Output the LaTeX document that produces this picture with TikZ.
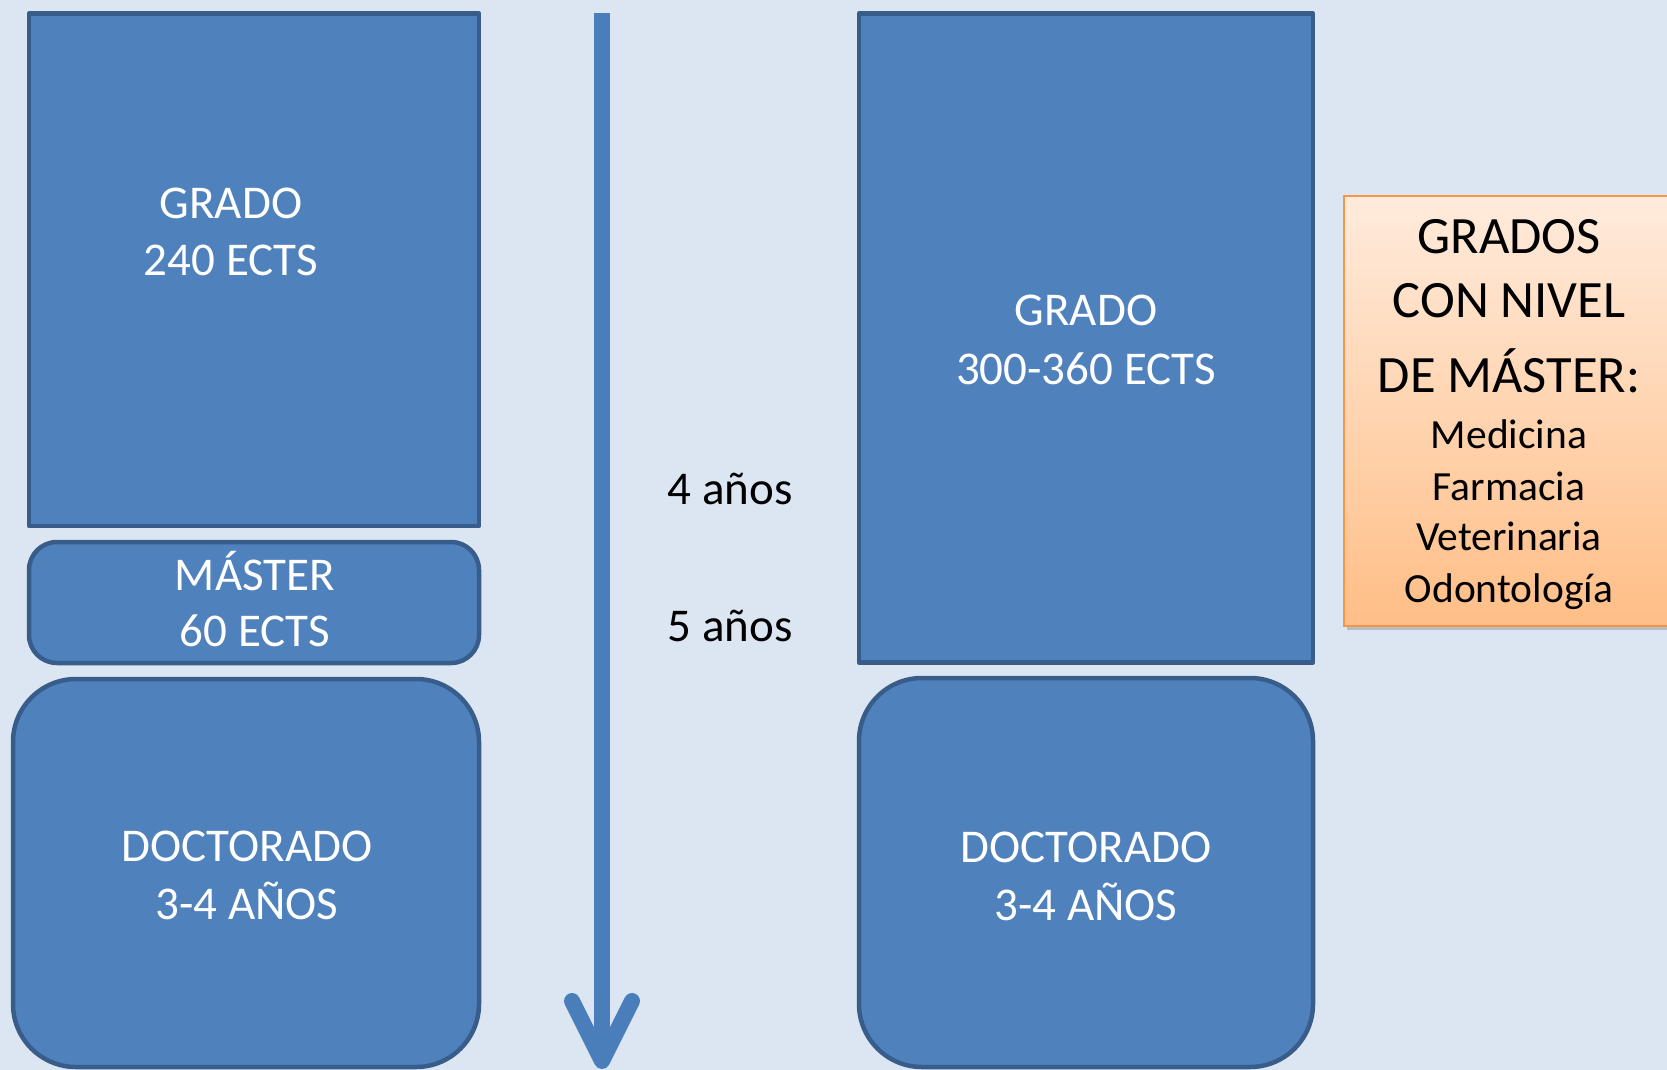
\documentclass[tikz,border=0pt]{standalone}
\usepackage{fontspec}
\setmainfont{Carlito}
\usepackage{xcolor}
\usetikzlibrary{arrows.meta,shadows}
\definecolor{bgblue}{HTML}{DCE6F2}
\definecolor{boxblue}{HTML}{4F81BD}
\definecolor{boxedge}{HTML}{385D8A}
\definecolor{arrowblue}{HTML}{4A7EBB}
\definecolor{notetop}{HTML}{FFEBDC}
\definecolor{notebot}{HTML}{FFBE86}
\definecolor{noteedge}{HTML}{F79646}

\begin{document}
\begin{tikzpicture}[x=1pt, y=-1pt,
    blockbox/.style={fill=boxblue, draw=boxedge, line width=4.5pt, line join=round},
    blocktext/.style={text=white, anchor=base, font=\fontsize{47}{56}\selectfont},
    yeartext/.style={anchor=base, font=\fontsize{47}{56}\selectfont},
    notehead/.style={anchor=base, font=\fontsize{52.5}{62}\selectfont},
    noteitem/.style={anchor=base, font=\fontsize{41.5}{50}\selectfont}]
    \fill [bgblue] (0,0) rectangle (1667,1070);
    \useasboundingbox (0,0) rectangle (1667,1070);

    % Left column: grado + master + doctorado
    \draw [blockbox] (29,13.5) rectangle (479,526);
    \node [blocktext] (gradoL) at (231,218) {GRADO};
    \node [blocktext] (ectsL) at (231,275) {240 ECTS};
    \draw [blockbox, rounded corners=28pt] (29,542) rectangle (479,663);
    \node [blocktext] (master) at (255,590) {MÁSTER};
    \node [blocktext] (ectsM) at (255,646) {60 ECTS};
    \draw [blockbox, rounded corners=63pt] (13,679) rectangle (479,1067);
    \node [blocktext] (doctL) at (247,861) {DOCTORADO};
    \node [blocktext] (yearsL) at (247,919) {3-4 AÑOS};

    % Time axis
    \coordinate (timetop) at (602,13);
    \coordinate (timeend) at (602,1069);
    \draw [arrowblue, line width=16pt, -{Straight Barb[length=60pt, width=60pt, round]}] (timetop) -- (timeend);
    \node [yeartext] (four) at (730,504) {4 años};
    \node [yeartext] (five) at (730,641) {5 años};

    % Right column: long grado + doctorado
    \draw [blockbox] (859,13.5) rectangle (1313,662.5);
    \node [blocktext] (gradoR) at (1086,325) {GRADO};
    \node [blocktext] (ectsR) at (1086,384) {300-360 ECTS};
    \draw [blockbox, rounded corners=63pt] (859,678) rectangle (1313,1067);
    \node [blocktext] (doctR) at (1086,862) {DOCTORADO};
    \node [blocktext] (yearsR) at (1086,920) {3-4 AÑOS};

    % Note box
    \draw [draw=noteedge, line width=2pt, top color=notetop, bottom color=notebot,
        drop shadow={shadow xshift=3pt, shadow yshift=-4pt, opacity=0.4}] (1343.5,195.5) rectangle (1700,626);
    \node [notehead] (noteA) at (1509,253) {GRADOS};
    \node [notehead] (noteB) at (1509,317) {CON NIVEL};
    \node [notehead] (noteC) at (1509,392) {DE MÁSTER:};
    \foreach \name/\t/\y in {med/Medicina/448, farm/Farmacia/500, vet/Veterinaria/550, odon/Odontología/602} {
        \node [noteitem] (\name) at (1509,\y) {\t};
    }
\end{tikzpicture}
\end{document}
